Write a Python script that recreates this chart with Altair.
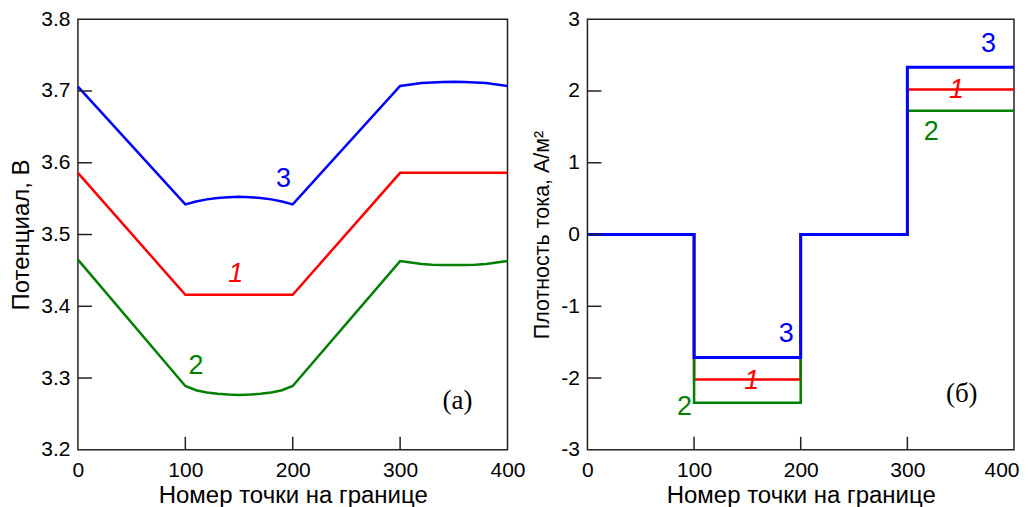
import altair as alt
import pandas as pd

# ---------- panel (a): potential ----------
xa_red = [0, 100, 200, 300, 400]
ya_red = [3.586, 3.416, 3.416, 3.586, 3.586]

xa_arc = [0, 100, 110, 120, 130, 140, 150, 160, 170, 180, 190, 200,
          300, 310, 320, 330, 340, 350, 360, 370, 380, 390, 400]
ya_blue = [3.706, 3.542, 3.546, 3.549, 3.551, 3.552, 3.5525, 3.552, 3.551, 3.549, 3.546, 3.542,
           3.707, 3.709, 3.711, 3.712, 3.7125, 3.713, 3.7125, 3.712, 3.711, 3.709, 3.707]
ya_green = [3.465, 3.289, 3.283, 3.280, 3.278, 3.277, 3.2765, 3.277, 3.278, 3.280, 3.283, 3.289,
            3.463, 3.461, 3.459, 3.458, 3.4575, 3.4575, 3.4575, 3.458, 3.459, 3.461, 3.463]

# ---------- panel (б): current density ----------
xb = [0, 100, 100, 200, 200, 300, 300, 400]
yb_red = [0, 0, -2.02, -2.02, 0, 0, 2.02, 2.02]
yb_green = [0, 0, -2.345, -2.345, 0, 0, 1.725, 1.725]
yb_blue = [0, 0, -1.715, -1.715, 0, 0, 2.33, 2.33]

# curve labels
lab_a_text = ["3", "1", "2"]
lab_a_x = [191.5, 147, 110]
lab_a_y = [3.577, 3.445, 3.317]
lab_b_text = ["3", "1", "2", "3", "1", "2"]
lab_b_x = [186.5, 154, 91, 376, 346, 322.5]
lab_b_y = [-1.38, -2.035, -2.41, 2.65, 2.02, 1.43]
lab_colors = {"1": "#ff0000", "2": "#008000", "3": "#0000ff"}

xticks = [0, 100, 200, 300, 400]
yticks_a = [3.2, 3.3, 3.4, 3.5, 3.6, 3.7, 3.8]
yticks_b = [-3, -2, -1, 0, 1, 2, 3]

FONT = "Liberation Sans"
W_A, W_B, H = 430, 427, 431


def series(xs, ys, name):
    return pd.DataFrame({"x": xs, "y": ys, "s": name, "o": list(range(len(xs)))})


def panel(lines, labels, yticks, ydom, ytitle, ytitle_size, tag, tagxy, width, ylabel_expr,
          last_right=False):
    xs = alt.Scale(domain=[0, 400], nice=False, zero=False)
    ys = alt.Scale(domain=ydom, nice=False, zero=False)
    xkw = {}
    if last_right:
        xkw = dict(
            labelAlign={"condition": {"test": "datum.value == 400", "value": "right"},
                        "value": "center"},
            labelOffset={"condition": {"test": "datum.value == 400", "value": 5},
                         "value": 0},
        )
    xax = alt.Axis(values=xticks, title="Номер точки на границе", tickSize=0, domain=False,
                   grid=False, labelPadding=10, titlePadding=3, labelFontSize=21,
                   titleFontSize=24, labelFont=FONT, titleFont=FONT, labelColor="black",
                   titleColor="black", titleFontWeight="normal", labelFlush=False, **xkw)
    yax = alt.Axis(values=yticks, title=ytitle, tickSize=0, domain=False, grid=False,
                   labelPadding=8, titlePadding=7, labelFontSize=21, titleFontSize=ytitle_size,
                   labelFont=FONT, titleFont=FONT, labelColor="black", titleColor="black",
                   titleFontWeight="normal", labelFlush=False, labelExpr=ylabel_expr)
    X = lambda f: alt.X(f, scale=xs, axis=xax)
    Y = lambda f: alt.Y(f, scale=ys, axis=yax)
    layers = []
    for df, col, sw in lines:
        layers.append(alt.Chart(df).mark_line(color=col, strokeWidth=sw).encode(
            x=X("x:Q"), y=Y("y:Q"), order="o:Q"))
    # inward tick marks
    ytk = pd.DataFrame({"y": yticks[1:-1]})
    xtk = pd.DataFrame({"x": xticks[1:-1]})
    layers.append(alt.Chart(ytk).mark_rule(color="#222", strokeWidth=1.5).encode(
        y=Y("y:Q"), x=alt.value(0), x2=alt.value(14)))
    layers.append(alt.Chart(xtk).mark_rule(color="#222", strokeWidth=1.5).encode(
        x=X("x:Q"), y=alt.value(H), y2=alt.value(H - 13)))
    # curve labels
    for t, lx, ly in labels:
        layers.append(alt.Chart(pd.DataFrame({"x": [lx], "y": [ly], "t": [t]})).mark_text(
            font=FONT, fontSize=27, fontStyle="italic" if t == "1" else "normal",
            color=lab_colors[t], align="center", baseline="middle").encode(
            x=X("x:Q"), y=Y("y:Q"), text="t:N"))
    layers.append(alt.Chart(pd.DataFrame({"x": [tagxy[0]], "y": [tagxy[1]], "t": [tag]})).mark_text(
        font="Liberation Serif", fontSize=27, color="black", align="center",
        baseline="middle").encode(x=X("x:Q"), y=Y("y:Q"), text="t:N"))
    return alt.layer(*layers).properties(width=width, height=H)


left = panel(
    [(series(xa_red, ya_red, "1"), "#ff0000", 2.5),
     (series(xa_arc, ya_green, "2"), "#008000", 2.5),
     (series(xa_arc, ya_blue, "3"), "#0000ff", 2.5)],
    list(zip(lab_a_text, lab_a_x, lab_a_y)), yticks_a, [3.2, 3.8], "Потенциал, В", 24,
    "(a)", (353.5, 3.268), W_A, "format(datum.value, '.1f')")

right = panel(
    [(series(xb, yb_red, "1"), "#ff0000", 2.5),
     (series(xb, yb_green, "2"), "#008000", 2.5),
     (series(xb, yb_blue, "3"), "#0000ff", 3)],
    list(zip(lab_b_text, lab_b_x, lab_b_y)), yticks_b, [-3, 3], "Плотность тока, А/м²", 21.5,
    "(б)", (351, -2.217), W_B, "'' + datum.value", last_right=True)

chart = alt.hconcat(left, right, spacing=4).properties(
    padding={"left": 1, "top": -1, "right": 0, "bottom": 0}, background="white"
).configure_view(stroke="#222", strokeWidth=1.5)

chart.save("out.html", embed_options={"renderer": "svg", "actions": False})
